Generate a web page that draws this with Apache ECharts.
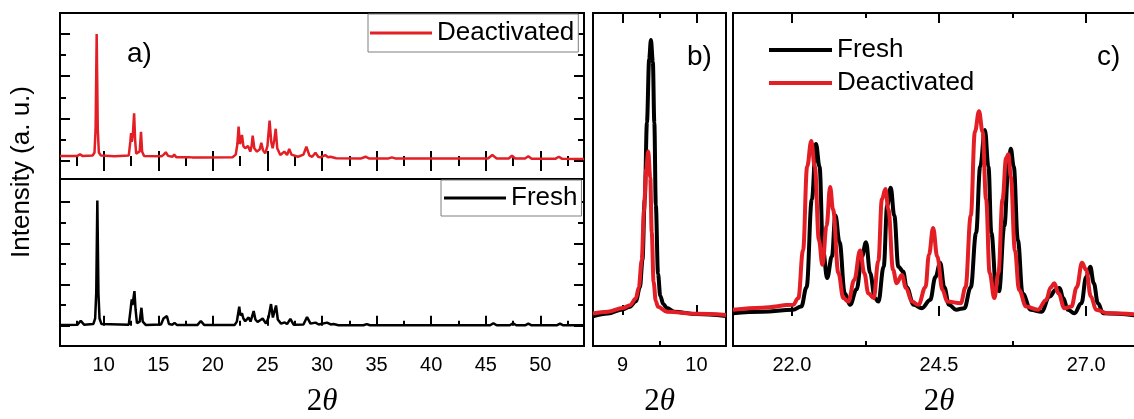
<!DOCTYPE html>
<html>
<head>
<meta charset="utf-8">
<script src="https://cdn.jsdelivr.net/npm/echarts@6/dist/echarts.min.js"></script>
<style>html,body{margin:0;padding:0;background:#fff}#c{width:1134px;height:419px}</style>
</head>
<body>
<div id="c"></div>
<script>
// ---- data ----
// panel a, top (Deactivated) : [2θ, intensity a.u.]
const deactA = [[6.0,0.24],[7.6,0.24],[7.83,0.32],[8.05,0.24],[9.0,0.26],[9.16,0.4],[9.26,1.5],[9.32,4.2],[9.36,5.99],[9.40,4.2],[9.46,1.5],[9.56,0.4],[9.75,0.26],[11.0,0.22],[12.3,0.26],[12.44,0.9],[12.51,1.31],[12.58,0.9],[12.68,1.3],[12.79,2.25],[12.88,1.0],[12.98,0.35],[13.1,0.28],[13.3,0.45],[13.42,1.38],[13.52,0.45],[13.7,0.24],[15.3,0.22],[15.5,0.3],[15.69,0.41],[15.9,0.24],[16.3,0.2],[16.46,0.3],[16.65,0.18],[17.8,0.18],[17.93,0.24],[18.1,0.17],[18.7,0.17],[18.84,0.24],[19.0,0.17],[21.8,0.18],[22.1,0.3],[22.25,0.8],[22.36,1.62],[22.48,0.8],[22.55,0.9],[22.67,1.23],[22.8,0.7],[22.97,0.6],[23.22,0.71],[23.43,0.44],[23.55,0.7],[23.65,1.19],[23.8,0.6],[24.04,0.44],[24.3,0.55],[24.44,0.86],[24.6,0.5],[24.8,0.36],[25.0,0.7],[25.2,1.9],[25.35,0.9],[25.48,0.6],[25.63,1.0],[25.76,1.52],[25.9,0.6],[26.18,0.28],[26.55,0.44],[26.8,0.28],[27.0,0.57],[27.2,0.3],[27.8,0.2],[28.3,0.3],[28.57,0.67],[28.85,0.25],[29.1,0.2],[29.4,0.39],[29.65,0.2],[29.85,0.17],[30.3,0.28],[30.55,0.18],[30.77,0.2],[31.3,0.13],[33.6,0.12],[33.98,0.2],[34.3,0.12],[36.1,0.12],[36.4,0.17],[36.7,0.12],[45.2,0.12],[45.6,0.28],[46.0,0.12],[47.1,0.12],[47.4,0.25],[47.7,0.12],[48.6,0.12],[48.9,0.22],[49.2,0.11],[51.4,0.11],[51.7,0.2],[52.0,0.1],[54.0,0.09]];
// panel a, bottom (Fresh)
const freshA = [[6.0,0.03],[7.6,0.05],[7.9,0.24],[8.2,0.05],[9.05,0.08],[9.22,0.35],[9.32,1.6],[9.38,4.3],[9.42,6.07],[9.46,4.3],[9.52,1.6],[9.62,0.35],[9.8,0.08],[12.3,0.05],[12.47,0.8],[12.57,1.28],[12.64,1.0],[12.72,1.3],[12.82,1.68],[12.92,0.8],[13.05,0.12],[13.3,0.2],[13.46,0.87],[13.58,0.2],[13.85,0.04],[15.25,0.06],[15.48,0.35],[15.6,0.27],[15.79,0.47],[15.98,0.08],[16.3,0.05],[16.49,0.14],[16.7,0.04],[18.6,0.04],[18.9,0.23],[19.2,0.04],[22.0,0.04],[22.2,0.2],[22.32,0.6],[22.42,0.92],[22.52,0.5],[22.67,0.6],[22.8,0.35],[22.97,0.22],[23.28,0.4],[23.45,0.2],[23.6,0.45],[23.74,0.71],[23.9,0.3],[24.1,0.18],[24.56,0.35],[24.87,0.1],[25.1,0.4],[25.33,1.05],[25.5,0.4],[25.65,0.7],[25.79,0.98],[25.95,0.3],[26.25,0.1],[26.58,0.16],[26.8,0.08],[27.1,0.33],[27.4,0.05],[28.3,0.06],[28.63,0.42],[28.95,0.1],[29.4,0.15],[29.7,0.06],[30.46,0.15],[30.8,0.06],[31.06,0.08],[31.5,0.02],[33.8,0.02],[34.1,0.08],[34.4,0.02],[45.4,0.02],[45.7,0.12],[46.0,0.02],[47.2,0.02],[47.5,0.12],[47.8,0.02],[48.6,0.02],[48.9,0.1],[49.2,0.02],[51.5,0.02],[51.8,0.1],[52.1,0.02],[54.0,0.02]];
// panel b
const freshB = [[8.6,-0.005],[8.8,0.005],[9.0,0.02],[9.1,0.03],[9.18,0.05],[9.235,0.1],[9.27,0.2],[9.3,0.42],[9.33,0.7],[9.36,0.93],[9.384,1.0],[9.41,0.92],[9.43,0.7],[9.45,0.4],[9.48,0.15],[9.51,0.07],[9.55,0.04],[9.6,0.025],[9.7,0.012],[10.0,0.003],[10.4,-0.004]];
const deactB = [[8.6,0.005],[8.8,0.012],[9.0,0.025],[9.1,0.035],[9.18,0.06],[9.22,0.1],[9.26,0.2],[9.29,0.38],[9.32,0.53],[9.347,0.594],[9.375,0.5],[9.395,0.3],[9.42,0.12],[9.45,0.05],[9.48,0.03],[9.6,0.012],[10.0,0.004],[10.4,0.0]];
// panel c
const freshC = [[21.0,0.013],[21.5,0.02],[22.02,0.03],[22.16,0.046],[22.25,0.14],[22.34,0.57],[22.41,0.84],[22.47,0.73],[22.53,0.32],[22.6,0.185],[22.68,0.29],[22.74,0.49],[22.81,0.36],[22.9,0.11],[22.99,0.054],[23.1,0.13],[23.19,0.29],[23.26,0.36],[23.33,0.21],[23.41,0.087],[23.47,0.07],[23.56,0.24],[23.62,0.54],[23.68,0.626],[23.74,0.49],[23.81,0.24],[23.89,0.217],[23.95,0.14],[24.07,0.054],[24.21,0.038],[24.35,0.078],[24.44,0.19],[24.52,0.26],[24.59,0.14],[24.67,0.054],[24.79,0.03],[24.93,0.038],[25.04,0.14],[25.13,0.405],[25.2,0.73],[25.28,0.908],[25.34,0.73],[25.39,0.405],[25.47,0.14],[25.52,0.12],[25.61,0.44],[25.68,0.73],[25.72,0.817],[25.77,0.73],[25.84,0.37],[25.92,0.11],[26.06,0.03],[26.24,0.02],[26.38,0.095],[26.48,0.127],[26.55,0.136],[26.61,0.087],[26.69,0.03],[26.8,0.013],[26.92,0.062],[27.0,0.19],[27.07,0.24],[27.13,0.16],[27.2,0.062],[27.29,0.013],[28.0,-0.003]];
const deactC = [[21.0,0.03],[21.5,0.04],[22.02,0.054],[22.11,0.087],[22.19,0.32],[22.26,0.73],[22.33,0.854],[22.39,0.73],[22.46,0.37],[22.52,0.25],[22.59,0.44],[22.65,0.63],[22.7,0.52],[22.79,0.21],[22.875,0.087],[22.96,0.07],[23.06,0.176],[23.16,0.32],[23.23,0.21],[23.3,0.11],[23.39,0.087],[23.47,0.27],[23.53,0.57],[23.59,0.62],[23.64,0.52],[23.72,0.225],[23.78,0.16],[23.87,0.2],[23.94,0.136],[24.04,0.07],[24.15,0.054],[24.27,0.14],[24.33,0.3],[24.4,0.43],[24.47,0.29],[24.56,0.127],[24.64,0.07],[24.87,0.062],[24.95,0.14],[25.04,0.49],[25.11,0.9],[25.18,1.0],[25.24,0.9],[25.3,0.57],[25.36,0.21],[25.44,0.087],[25.51,0.21],[25.58,0.57],[25.64,0.77],[25.68,0.79],[25.72,0.68],[25.79,0.32],[25.86,0.127],[25.98,0.046],[26.18,0.03],[26.32,0.078],[26.4,0.14],[26.46,0.16],[26.53,0.11],[26.63,0.038],[26.75,0.046],[26.84,0.14],[26.93,0.26],[27.0,0.225],[27.08,0.095],[27.17,0.03],[27.37,0.013],[28.0,0.005]];

// tick positions / labels
const ticksA_major = [10,15,20,25,30,35,40,45,50];
const ticksA_minor = [7.5,12.5,17.5,22.5,27.5,32.5,37.5,42.5,47.5,52.5];
const ticksB_major = [9,10];
const ticksB_minor = [9.5];
const ticksC_major = [22.0,24.5,27.0];
const ticksC_minor = [23.25,25.75];
const ticksY_major = [0,2,4,6];
const ticksY_minor = [1,3,5];

const SANS = '"Liberation Sans", Arial, sans-serif';
const RED = '#e31e24';
const BLACK = '#000000';

const chart = echarts.init(document.getElementById('c'), null, {renderer:'canvas'});

const grids = [
  {left:60, top:13, width:524, height:166},   // a top
  {left:60, top:179, width:524, height:167},  // a bottom
  {left:593, top:13, width:133, height:333},  // b
  {left:733, top:13, width:412, height:333}   // c (right edge cut off)
].map(g => Object.assign({show:true, borderColor:'#000', borderWidth:2, backgroundColor:'transparent', containLabel:false, outerBoundsMode:'none'}, g));

const nameRich = {
  n:{fontFamily:'"Liberation Serif", serif', fontSize:31, color:'#000'},
  t:{fontFamily:'"Liberation Serif", serif', fontSize:31, fontStyle:'italic', color:'#000'}
};

function xAx(grid, pos, min, max, ticks, len, labels, fmt, name) {
  const ax = {
    type:'value', gridIndex:grid, position:pos, min:min, max:max,
    axisLine:{show:false}, splitLine:{show:false},
    axisTick:{show:true, inside:true, length:len, customValues:ticks, lineStyle:{color:'#000', width:2}},
    axisLabel:{show:!!labels, customValues:labels || [], margin:9, color:'#000', fontFamily:SANS, fontSize:20,
      formatter: fmt || (v => String(v))}
  };
  if (name) {
    ax.name = '{n|2}{t|θ}';
    ax.nameLocation = 'middle';
    ax.nameGap = 40;
    ax.nameTextStyle = {rich:nameRich};
  }
  return ax;
}
function yAx(grid, pos, min, max, ticks, len) {
  return {
    type:'value', gridIndex:grid, position:pos, min:min, max:max,
    axisLine:{show:false}, splitLine:{show:false},
    axisTick:{show:!!ticks, inside:true, length:len, customValues:ticks || [], lineStyle:{color:'#000', width:2}},
    axisLabel:{show:false}
  };
}

const xAxes = [
  // 0-3 : panel a top
  xAx(0,'bottom',6,54,ticksA_major,10),
  xAx(0,'bottom',6,54,ticksA_minor,5),
  xAx(0,'top',6,54,ticksA_major,10),
  xAx(0,'top',6,54,ticksA_minor,5),
  // 4-5 : panel a bottom
  xAx(1,'bottom',6,54,ticksA_major,10,ticksA_major,null,true),
  xAx(1,'bottom',6,54,ticksA_minor,5),
  // 6-9 : panel b
  xAx(2,'bottom',8.6,10.4,ticksB_major,10,ticksB_major,null,true),
  xAx(2,'bottom',8.6,10.4,ticksB_minor,5),
  xAx(2,'top',8.6,10.4,ticksB_major,10),
  xAx(2,'top',8.6,10.4,ticksB_minor,5),
  // 10-13 : panel c
  xAx(3,'bottom',21,28,ticksC_major,10,ticksC_major,v => v.toFixed(1),true),
  xAx(3,'bottom',21,28,ticksC_minor,5),
  xAx(3,'top',21,28,ticksC_major,10),
  xAx(3,'top',21,28,ticksC_minor,5)
];
const yAxes = [
  // 0-3 panel a top
  yAx(0,'left',-0.85,6.98,ticksY_major,10),
  yAx(0,'left',-0.85,6.98,ticksY_minor,6),
  yAx(0,'right',-0.85,6.98,ticksY_major,10),
  yAx(0,'right',-0.85,6.98,ticksY_minor,6),
  // 4-7 panel a bottom
  yAx(1,'left',-0.985,7.12,ticksY_major,10),
  yAx(1,'left',-0.985,7.12,ticksY_minor,6),
  yAx(1,'right',-0.985,7.12,ticksY_major,10),
  yAx(1,'right',-0.985,7.12,ticksY_minor,6),
  // 8 panel b
  yAx(2,'left',-0.113,1.098,null,0),
  // 9 panel c
  yAx(3,'left',-0.147,1.48,null,0)
];

function line(name, data, xi, yi, color, width, smooth) {
  return {type:'line', name:name, data:data, xAxisIndex:xi, yAxisIndex:yi,
    symbol:'none', showSymbol:false, smooth:smooth, smoothMonotone:'x',
    lineStyle:{color:color, width:width}, itemStyle:{color:color}, animation:false, silent:true};
}

const legendText = {fontFamily:SANS, fontSize:26, color:'#000'};
const option = {
  backgroundColor:'#fff',
  animation:false,
  grid: grids,
  xAxis: xAxes,
  yAxis: yAxes,
  legend: [
    {data:['Deactivated'], left:368, top:14, orient:'horizontal', icon:'rect', itemWidth:62, itemHeight:3,
     padding:[6,4,6,2], borderColor:'#7f7f7f', borderWidth:1, backgroundColor:'#fff',
     textStyle:legendText, selectedMode:false},
    {data:['Fresh'], left:441, top:180, orient:'horizontal', icon:'rect', itemWidth:62, itemHeight:3,
     padding:[5,4,5,3], borderColor:'#7f7f7f', borderWidth:1, backgroundColor:'#fff',
     textStyle:legendText, selectedMode:false},
    {data:['Fresh','Deactivated'], left:769, top:37, orient:'vertical', icon:'rect', itemWidth:63, itemHeight:4,
     itemGap:7, padding:0, textStyle:legendText, selectedMode:false}
  ],
  graphic: [
    {type:'text', x:127, y:54, style:{text:'a)', fontFamily:SANS, fontSize:28, fill:'#000', align:'left', verticalAlign:'middle'}},
    {type:'text', x:687, y:57, style:{text:'b)', fontFamily:SANS, fontSize:28, fill:'#000', align:'left', verticalAlign:'middle'}},
    {type:'text', x:1097, y:57, style:{text:'c)', fontFamily:SANS, fontSize:28, fill:'#000', align:'left', verticalAlign:'middle'}},
    {type:'text', x:22, y:172, rotation:Math.PI/2, style:{text:'Intensity (a. u.)', fontFamily:SANS, fontSize:26, fill:'#000', align:'center', verticalAlign:'middle'}}
  ],
  series: [
    line('Deactivated', deactA, 0, 0, RED, 2.5, false),
    line('Fresh', freshA, 4, 4, BLACK, 2.5, false),
    line('Fresh', freshB, 6, 8, BLACK, 4, 0.35),
    line('Deactivated', deactB, 6, 8, RED, 4, 0.35),
    line('Fresh', freshC, 10, 9, BLACK, 4, 0.4),
    line('Deactivated', deactC, 10, 9, RED, 4, 0.4)
  ]
};
chart.setOption(option);
</script>
</body>
</html>
